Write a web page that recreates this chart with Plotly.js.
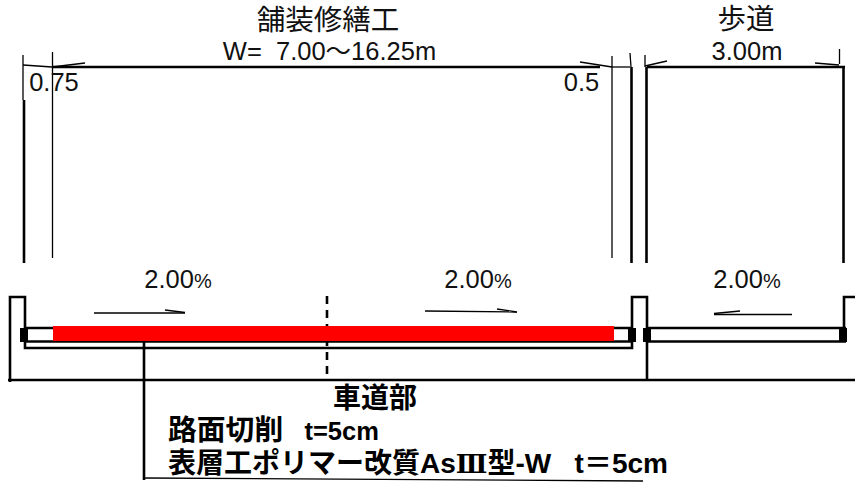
<!DOCTYPE html>
<html><head><meta charset="utf-8">
<script src="https://cdn.plot.ly/plotly-3.0.1.min.js"></script>
<style>html,body{margin:0;padding:0;background:#fff}</style></head>
<body><div id="chart" style="width:855px;height:484px"></div>
<script>
// Drawing geometry (x, y in drawing units; null breaks a line)
const hairX = [23,23,null,23,52,85,null,52.5,52.5,null,580,612,null,612,630,null,630,631,null,612,612,null,645,645,null,645,667,null,839.5,839.5,null,815,839,null,165,185,null,94,185,null,425,517,null,497,517,null,714,792,null,714,740,null,145,643];
const hairY = [55,100,null,65,67,63,null,52,258,null,62,67,null,67,67,null,53,67,null,56,258,null,55,67,null,66,61,null,49,64,null,63,65,null,310,312.5,null,313,313,null,311,312,null,309,312,null,314.5,314.5,null,313.5,311,null,478,481];
const wallX = [24,24,null,631.5,631.5,null,646.5,646.5,null,843.5,843.5,null,53,600,null,647,845];
const wallY = [100,263,null,67,263,null,67,263,null,67,263,null,67,67,null,67,67];
const curbX = [10,10,25,25,632,632,647,647,null,855,844,844,null,8,855,null,25,633,null,647,846,null,25,633,null,647,846,null,144,144];
const curbY = [382,297,297,348,348,297,297,380,null,297,297,330,null,380,380,null,328,328,null,328,328,null,341.5,341.5,null,341.5,341.5,null,342,480];
const blockX = [24,24,null,632,632,null,647,647,null,843,843];
const blockY = [328,342,null,328,342,null,328,342,null,328,342];
const surfaceX = [53,614];
const surfaceY = [333.5,333.5];
const centreX = [327,327];
const centreY = [296,378];

const titleLabels = ['舗装修繕工','歩道'];
const titleX = [328,746];
const titleY = [23,22];
const PCT = '<span style="font-size:20px">%</span>';
const dimLabels = ['W=\u00a0\u00a07.00〜16.25m','3.00m','0.75','0.5','2.00'+PCT,'2.00'+PCT,'2.00'+PCT];
const dimX = [329.5,747,54,581.5,178,478,747];
const dimY = [53.5,53.5,85,85,282,282,282];
const noteLabels = ['車道部'];
const noteX = [375];
const noteY = [401];
const C = s => '<span style="font-size:28.8px">'+s+'</span>';
const S = s => '<span style="font-size:25.5px">'+s+'</span>';
const leftLabels = [C('路面切削')+S('\u00a0\u00a0\u00a0t=5cm'),
  '表層工ポリマー改質As<span style="font-family:DejaVu Serif;font-size:26px">Ⅲ</span>型-W\u00a0\u00a0\u00a0t＝5cm'];
const leftX = [168,168];
const leftY = [433,466];

const FONT = '"Liberation Sans","Noto Sans CJK JP",sans-serif';
const line = (x,y,w,c,dash) => ({x,y,type:'scatter',mode:'lines',connectgaps:false,hoverinfo:'skip',
  line:{color:c||'#000',width:w,dash:dash||'solid'}});
const txt = (x,y,t,size,pos,color) => ({x,y,text:t,type:'scatter',mode:'text',hoverinfo:'skip',cliponaxis:false,
  textposition:pos||'middle center',textfont:{family:FONT,size,color:color||'#111'}});

const traces = [
  line(hairX,hairY,1.3),
  line(wallX,wallY,2.6),
  line(centreX,centreY,2.6,'#000','8px,6px'),
  line(curbX,curbY,2.6),
  line(blockX,blockY,8),
  line(surfaceX,surfaceY,15,'#f00'),
  txt(titleX,titleY,titleLabels,28.5),
  txt(dimX,dimY,dimLabels,25.5),
  txt(noteX,noteY,noteLabels,28,'middle center','#000'),
  txt(leftX,leftY,leftLabels,28,'middle right','#000')
];
traces[traces.length-2].textfont.weight = 700;
traces[traces.length-1].textfont.weight = 700;

const axis = (range) => ({range,visible:false,fixedrange:true});
Plotly.newPlot('chart',traces,{
  width:855,height:484,showlegend:false,
  margin:{l:0,r:0,t:0,b:0},paper_bgcolor:'#fff',plot_bgcolor:'#fff',
  xaxis:axis([0,855]),yaxis:axis([484,0])
},{displayModeBar:false,staticPlot:true});
</script></body></html>
